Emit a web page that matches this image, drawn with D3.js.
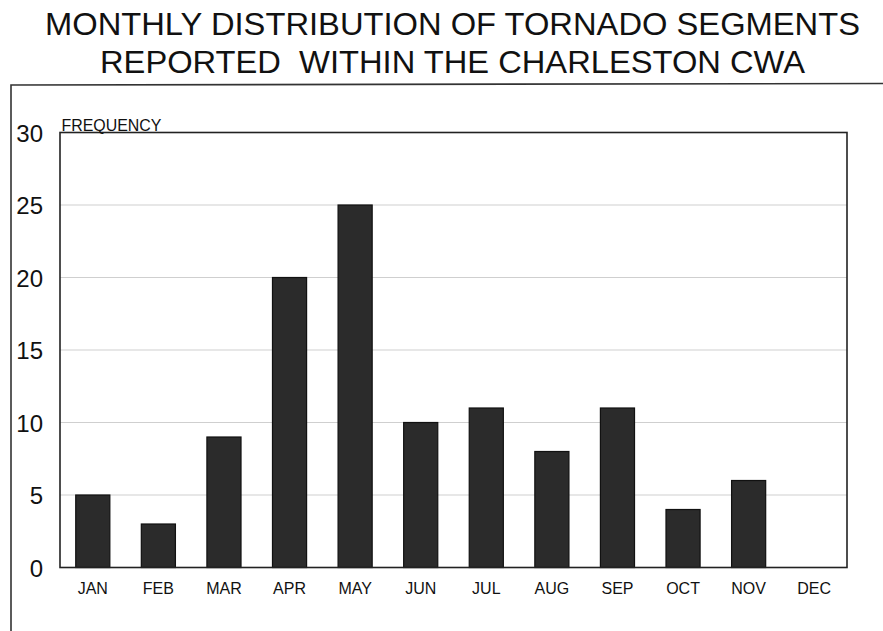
<!DOCTYPE html>
<html>
<head>
<meta charset="utf-8">
<script src="https://cdn.jsdelivr.net/npm/d3@7"></script>
<style>
  html, body { margin: 0; padding: 0; background: #fff; }
  svg { display: block; }
  text { font-family: "Liberation Sans", Arial, sans-serif; fill: #111; }
</style>
</head>
<body>
<svg id="chart" width="883" height="631"></svg>
<script>
const months = ["JAN","FEB","MAR","APR","MAY","JUN","JUL","AUG","SEP","OCT","NOV","DEC"];
const frequency = [5, 3, 9, 20, 25, 10, 11, 8, 11, 4, 6, 0];
const yTicks = [0, 5, 10, 15, 20, 25, 30];
const titleLines = ["MONTHLY DISTRIBUTION OF TORNADO SEGMENTS", "REPORTED  WITHIN THE CHARLESTON CWA"];
const yAxisLabel = "FREQUENCY";

const svg = d3.select("#chart");
const plot = { left: 60, right: 847, top: 132.5, bottom: 567.5 };

const x = d3.scaleBand().domain(months).range([plot.left, plot.right])
  .paddingInner(0.48).paddingOuter(0.24);
const y = d3.scaleLinear().domain([0, 30]).range([plot.bottom, plot.top]);

// Title
svg.append("text").attr("x", 452.5).attr("y", 35).attr("text-anchor", "middle")
  .attr("font-size", 31).attr("textLength", 815).attr("lengthAdjust", "spacingAndGlyphs")
  .text(titleLines[0]);
svg.append("text").attr("x", 452.5).attr("y", 72.5).attr("text-anchor", "middle")
  .attr("font-size", 31).attr("textLength", 705).attr("lengthAdjust", "spacingAndGlyphs")
  .attr("xml:space", "preserve").style("white-space", "pre")
  .text(titleLines[1]);

// Outer frame (top and left)
svg.append("path").attr("d", "M11,631 L11,85 L883,83.5")
  .attr("fill", "none").attr("stroke", "#333").attr("stroke-width", 1.6);

// Gridlines
svg.append("g").selectAll("line").data(yTicks.filter(t => t > 0 && t < 30)).join("line")
  .attr("x1", plot.left).attr("x2", plot.right)
  .attr("y1", d => y(d)).attr("y2", d => y(d))
  .attr("stroke", "#cfcfcf").attr("stroke-width", 1);

// Bars
svg.append("g").selectAll("rect").data(months.map((m, i) => ({ m, v: frequency[i] })).filter(d => d.v > 0)).join("rect")
  .attr("x", d => x(d.m)).attr("width", x.bandwidth())
  .attr("y", d => y(d.v)).attr("height", d => y(0) - y(d.v))
  .attr("fill", "#2b2b2b").attr("stroke", "#111").attr("stroke-width", 1.2);

// Plot box
svg.append("rect").attr("x", plot.left).attr("y", plot.top)
  .attr("width", plot.right - plot.left).attr("height", plot.bottom - plot.top)
  .attr("fill", "none").attr("stroke", "#222").attr("stroke-width", 1.6);

// Y axis labels
const yAxis = d3.axisLeft(y).tickValues(yTicks).tickSize(0).tickPadding(0);
const gy = svg.append("g").attr("transform", "translate(43,0)").call(yAxis);
gy.select(".domain").remove();
gy.selectAll("text").attr("font-size", 24).attr("fill", "#111")
  .attr("font-family", "'Liberation Sans', Arial, sans-serif").attr("dy", "0.36em");

// X axis labels
const xAxis = d3.axisBottom(x).tickSize(0).tickPadding(0);
const gx = svg.append("g").attr("transform", "translate(0,583)").call(xAxis);
gx.select(".domain").remove();
gx.selectAll("text").attr("font-size", 16).attr("fill", "#111")
  .attr("font-family", "'Liberation Sans', Arial, sans-serif").attr("dy", "0.71em");

// Y axis title
svg.append("text").attr("x", 61.5).attr("y", 130.5).attr("font-size", 17)
  .attr("textLength", 100).attr("lengthAdjust", "spacingAndGlyphs")
  .text(yAxisLabel);
</script>
</body>
</html>
